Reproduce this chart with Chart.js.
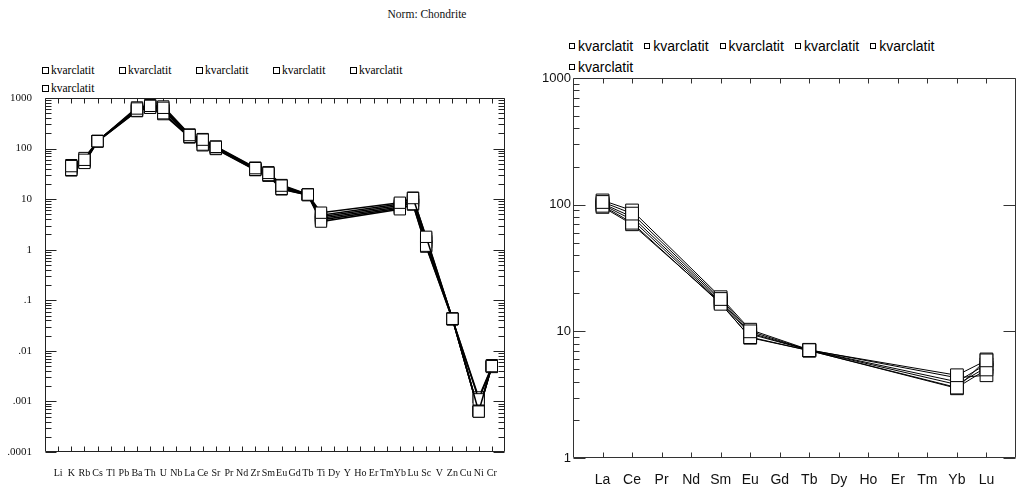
<!DOCTYPE html>
<html>
<head>
<meta charset="utf-8">
<script src="https://cdn.jsdelivr.net/npm/chart.js@4.4.0/dist/chart.umd.min.js"></script>
<style>
  body { margin: 0; width: 1020px; height: 491px; overflow: hidden; background: #fff; position: relative; }
  canvas { position: absolute; top: 0; }
  #spider { left: 0; }
  #ree { left: 520px; }
  .title { position: absolute; top: 8px; left: 380px; width: 94px; text-align: center;
           font: 11.5px "Liberation Serif", serif; color: #111; }
  .legend { position: absolute; display: flex; flex-wrap: wrap; }
  .legend .item { display: flex; align-items: center; white-space: nowrap; }
  .legend .box { display: inline-block; border: 1px solid #000; background: #fff; box-sizing: border-box; }
  #legend-left { left: 42px; top: 61px; width: 390px; font: 11.5px "Liberation Serif", serif; }
  #legend-left .item { width: 77px; height: 18px; }
  #legend-left .box { width: 7px; height: 7px; margin-right: 2px; }
  #legend-right { left: 569px; top: 35px; width: 380px; font: 14px "Liberation Sans", sans-serif; }
  #legend-right .item { width: 75.3px; height: 21px; }
  #legend-right .box { width: 6px; height: 6px; margin-right: 3px; }
</style>
</head>
<body>
<div class="title">Norm: Chondrite</div>
<div class="legend" id="legend-left"></div>
<div class="legend" id="legend-right"></div>
<canvas id="spider" width="520" height="491"></canvas>
<canvas id="ree" width="510" height="491"></canvas>
<script>
const seriesNames = ['kvarclatit', 'kvarclatit', 'kvarclatit', 'kvarclatit', 'kvarclatit', 'kvarclatit'];

// spider diagram (left)
const spiderElements = ['Li', 'K', 'Rb', 'Cs', 'Tl', 'Pb', 'Ba', 'Th', 'U', 'Nb', 'La', 'Ce', 'Sr', 'Pr', 'Nd', 'Zr', 'Sm',
  'Eu', 'Gd', 'Tb', 'Ti', 'Dy', 'Y', 'Ho', 'Er', 'Tm', 'Yb', 'Lu', 'Sc', 'V', 'Zn', 'Cu', 'Ni', 'Cr'];
const spider1 = [null, 45, 60, 140, null, null, 620, 700, 640, null, 185, 150, 108, null, null, 41, 33, 18.5, null, 12.3, 5.4, null, null, null, null, null, 8.5, 10.5, 1.8, null, 0.043, null, 0.00063, 0.005];
const spider2 = [null, 38, 52, 138, null, null, 560, 640, 500, null, 170, 120, 100, null, null, 38, 30, 16, null, 12.1, 3.6, null, null, null, null, null, 6.3, 8, 1.2, null, 0.042, null, 0.0011, 0.0048];
const spider3 = [null, 42, 56, 142, null, null, 590, 680, 560, null, 178, 135, 104, null, null, 40, 31, 17, null, 12.2, 4.2, null, null, null, null, null, 7, 9, 1.4, null, 0.044, null, 0.00063, 0.005];
const spider4 = [null, 47, 65, 140, null, null, 650, 720, 680, null, 190, 154, 110, null, null, 42, 34, 19, null, 12.4, 4.8, null, null, null, null, null, 8, 10.7, 1.7, null, 0.043, null, 0.00065, 0.0052];
const spider5 = [null, 37, 54, 139, null, null, 550, 650, 480, null, 166, 116, 98, null, null, 37.5, 29, 15.6, null, 12, 3.9, null, null, null, null, null, 6.6, 7.8, 1.15, null, 0.042, null, 0.0012, 0.0049];
const spider6 = [null, 40, 58, 141, null, null, 600, 690, 600, null, 180, 140, 105, null, null, 39, 32, 17.5, null, 12.3, 4.5, null, null, null, null, null, 7.5, 9.5, 1.5, null, 0.043, null, 0.00065, 0.005];
const spiderTicks = [0.0001, 0.001, 0.01, 0.1, 1, 10, 100, 1000];
const spiderTickLabels = ['.0001', '.001', '.01', '.1', '1', '10', '100', '1000'];

// REE diagram (right)
const reeElements = ['La', 'Ce', 'Pr', 'Nd', 'Sm', 'Eu', 'Gd', 'Tb', 'Dy', 'Ho', 'Er', 'Tm', 'Yb', 'Lu'];
const ree1 = [105, 85, null, null, 18, 10, null, 7.1, null, null, null, null, 4.5, 5.9];
const ree2 = [98, 72, null, null, 16.5, 9, null, 7.05, null, null, null, null, 3.6, 5.0];
const ree3 = [100, 76, null, null, 17, 9.5, null, 7.1, null, null, null, null, 4.0, 5.5];
const ree4 = [108, 90, null, null, 18.6, 10.3, null, 7.15, null, null, null, null, 4.3, 4.5];
const ree5 = [96, 70, null, null, 16.8, 8.9, null, 7.05, null, null, null, null, 3.55, 6.0];
const ree6 = [102, 80, null, null, 17.5, 9.7, null, 7.1, null, null, null, null, 3.8, 5.2];
const reeTicks = [1, 10, 100, 1000];
const reeTickLabels = ['1', '10', '100', '1000'];

// empty slot at each end so the first and last element sit one step in from the frame
const pad = arr => [null, ...arr, null];

// frame with inward ticks, like the old plotting program
const frameTicks = {
  id: 'frameTicks',
  beforeDatasetsDraw(chart, args, o) {
    const { ctx, chartArea: a, scales: { x, y } } = chart;
    ctx.save();
    ctx.strokeStyle = o.color;
    ctx.lineWidth = 1;
    ctx.beginPath();
    const L = Math.round(a.left) + 0.5, R = Math.round(a.right) - 0.5;
    const T = Math.round(a.top) + 0.5, B = Math.round(a.bottom) - 0.5;
    ctx.rect(L, T, R - L, B - T);
    for (let i = 1; i < x.getLabels().length - 1; i++) {
      const px = Math.round(x.getPixelForValue(i)) + 0.5;
      ctx.moveTo(px, B); ctx.lineTo(px, B - o.xTick);
      ctx.moveTo(px, T); ctx.lineTo(px, T + o.xTick);
    }
    for (let d = y.min; d < y.max * 1.0001; d *= 10) {
      const py = Math.round(y.getPixelForValue(d)) + 0.5;
      ctx.moveTo(L, py); ctx.lineTo(L + o.major, py);
      ctx.moveTo(R, py); ctx.lineTo(R - o.major, py);
      if (d >= y.max) break;
      for (let k = 2; k < 10; k++) {
        const my = Math.round(y.getPixelForValue(d * k)) + 0.5;
        ctx.moveTo(L, my); ctx.lineTo(L + o.minor, my);
        if (o.rightMinor) { ctx.moveTo(R, my); ctx.lineTo(R - o.minor, my); }
      }
    }
    ctx.stroke();
    ctx.restore();
  }
};

function makeDatasets(list, width, radius) {
  return list.map((data, i) => ({
    label: seriesNames[i],
    data: pad(data),
    borderColor: '#000',
    borderWidth: width,
    pointStyle: 'rect',
    pointRadius: radius,
    pointBorderWidth: 1,
    pointBackgroundColor: '#fff',
    pointBorderColor: '#000',
    spanGaps: true,
    tension: 0
  }));
}

function makeChart(el, labels, datasets, yTicks, yLabels, box, font, tickOpts) {
  return new Chart(el, {
    type: 'line',
    data: { labels: pad(labels).map(v => v || ''), datasets },
    options: {
      responsive: false,
      animation: false,
      layout: { padding: box.padding },
      plugins: { legend: { display: false }, tooltip: { enabled: false }, frameTicks: tickOpts },
      scales: {
        x: {
          type: 'category',
          grid: { display: false, drawTicks: false },
          border: { display: false },
          ticks: { autoSkip: false, maxRotation: 0, minRotation: 0, padding: box.xPad, color: '#111', font: font.x },
          afterFit: s => { s.height = box.xHeight; }
        },
        y: {
          type: 'logarithmic',
          min: yTicks[0],
          max: yTicks[yTicks.length - 1],
          grid: { display: false, drawTicks: false },
          border: { display: false },
          ticks: { padding: box.yPad, color: '#111', font: font.y, callback: (v, i) => yLabels[i] },
          afterBuildTicks: s => { s.ticks = yTicks.map(v => ({ value: v })); },
          afterFit: s => { s.width = box.yWidth; }
        }
      }
    },
    plugins: [frameTicks]
  });
}

const serif = 'Liberation Serif';
const sans = 'Liberation Sans';

makeChart(document.getElementById('spider'), spiderElements,
  makeDatasets([spider1, spider2, spider3, spider4, spider5, spider6], 1.5, 8),
  spiderTicks, spiderTickLabels,
  { padding: { top: 98, right: 14, bottom: 0, left: 0 }, xHeight: 39, yWidth: 45, xPad: 15, yPad: 13 },
  { x: { family: serif, size: 10 }, y: { family: serif, size: 11 } },
  { color: '#222', xTick: 5, major: 11, minor: 6, rightMinor: true });

makeChart(document.getElementById('ree'), reeElements,
  makeDatasets([ree1, ree2, ree3, ree4, ree5, ree6], 1, 9),
  reeTicks, reeTickLabels,
  { padding: { top: 78, right: 3, bottom: 0, left: 0 }, xHeight: 33, yWidth: 53, xPad: 14, yPad: 2 },
  { x: { family: sans, size: 14 }, y: { family: sans, size: 13 } },
  { color: '#333', xTick: 5, major: 12, minor: 6, rightMinor: false });

// legends built from the series names
function buildLegend(id) {
  const host = document.getElementById(id);
  seriesNames.forEach(name => {
    const item = document.createElement('div');
    item.className = 'item';
    const box = document.createElement('span');
    box.className = 'box';
    item.appendChild(box);
    item.appendChild(document.createTextNode(name));
    host.appendChild(item);
  });
}
buildLegend('legend-left');
buildLegend('legend-right');
</script>
</body>
</html>
